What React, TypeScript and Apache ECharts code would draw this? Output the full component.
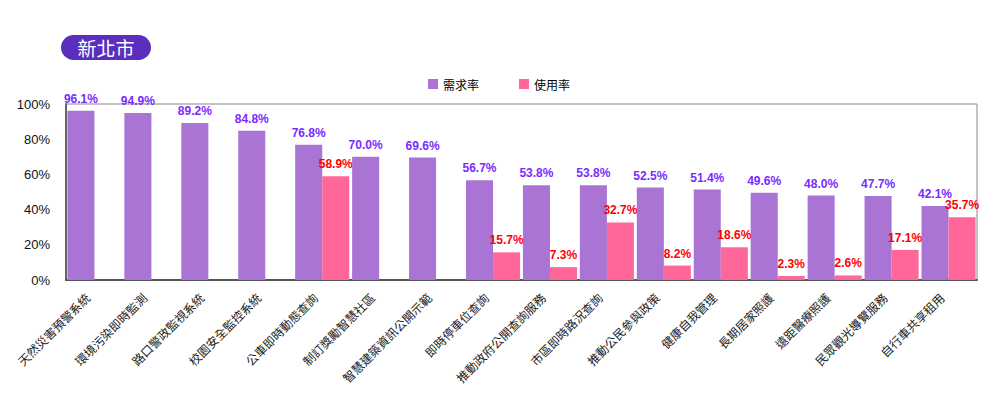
import React, { useEffect, useRef } from "react";
import * as echarts from "echarts";

const categories = [
  "天然災害預警系統",
  "環境污染即時監測",
  "路口警政監視系統",
  "校園安全監控系統",
  "公車即時動態查詢",
  "制訂獎勵智慧社區",
  "智慧建築資訊公開示範",
  "即時停車位查詢",
  "推動政府公開查詢服務",
  "市區即時路況查詢",
  "推動公民參與政策",
  "健康自我管理",
  "長期居家照護",
  "遠距醫療照護",
  "民眾觀光導覽服務",
  "自行車共享租用",
];
const demandRate = [96.1, 94.9, 89.2, 84.8, 76.8, 70.0, 69.6, 56.7, 53.8, 53.8, 52.5, 51.4, 49.6, 48.0, 47.7, 42.1];
const usageRate: (number | string)[] = ["-", "-", "-", "-", 58.9, "-", "-", 15.7, 7.3, 32.7, 8.2, 18.6, 2.3, 2.6, 17.1, 35.7];
const seriesNames = ["需求率", "使用率"];
const title = "新北市";

export default function App() {
  const ref = useRef<HTMLDivElement>(null);
  useEffect(() => {
    if (!ref.current) return;
    const chart = echarts.init(ref.current, undefined, { renderer: "svg" });
    const labelFont = { fontFamily: "Liberation Sans, Arial, sans-serif", fontSize: 12, fontWeight: "bold" as const };
    chart.setOption({
      animation: false,
      backgroundColor: "#fff",
      graphic: [
        {
          type: "group",
          left: 61,
          top: 35,
          children: [
            { type: "rect", shape: { x: 0, y: 0, width: 90, height: 25, r: 12.5 }, style: { fill: "#5B2EBF" } },
            {
              type: "text",
              x: 45,
              y: 12.5,
              style: {
                text: title,
                fill: "#fff",
                font: "19px 'Noto Sans CJK TC', sans-serif",
                align: "center",
                verticalAlign: "middle",
              },
            },
          ],
        },
      ],
      legend: {
        left: 428,
        top: 78,
        padding: 0,
        itemWidth: 10,
        itemHeight: 10,
        itemGap: 40,
        icon: "rect",
        textStyle: { color: "#000", fontSize: 12, fontFamily: "Noto Sans CJK TC, sans-serif" },
        data: seriesNames,
      },
      grid: {
        left: 66,
        right: 13,
        top: 104,
        bottom: 117,
        show: true,
        borderColor: "#888",
        borderWidth: 1,
        containLabel: false,
      },
      xAxis: {
        type: "category",
        data: categories,
        axisTick: { show: false },
        axisLine: { lineStyle: { color: "#555", width: 2 } },
        axisLabel: {
          interval: 0,
          rotate: 45,
          margin: 8,
          padding: [0, 10, 0, 0],
          color: "#222",
          fontSize: 12,
          fontFamily: "Noto Sans CJK TC, sans-serif",
        },
      },
      yAxis: {
        type: "value",
        min: 0,
        max: 100,
        interval: 20,
        splitLine: { show: false },
        axisTick: { show: false },
        axisLine: { show: true, lineStyle: { color: "#666", width: 2 } },
        axisLabel: {
          formatter: "{value}%",
          color: "#111",
          fontSize: 13,
          margin: 16,
          fontFamily: "Liberation Sans, Arial, sans-serif",
        },
      },
      series: [
        {
          name: seriesNames[0],
          type: "bar",
          data: demandRate,
          barGap: "0%",
          barCategoryGap: "5%",
          itemStyle: { color: "#A974D4" },
          label: {
            show: true,
            position: "top",
            distance: 6,
            color: "#7A2BFF",
            formatter: (p: any) => Number(p.value).toFixed(1) + "%",
            ...labelFont,
          },
        },
        {
          name: seriesNames[1],
          type: "bar",
          data: usageRate,
          barGap: "0%",
          barCategoryGap: "5%",
          itemStyle: { color: "#FF6699" },
          label: {
            show: true,
            position: "top",
            distance: 6,
            color: "#FF0000",
            formatter: (p: any) => Number(p.value).toFixed(1) + "%",
            ...labelFont,
          },
        },
      ],
    });
    return () => chart.dispose();
  }, []);
  return <div ref={ref} style={{ width: 990, height: 397, margin: -8 }} />;
}
